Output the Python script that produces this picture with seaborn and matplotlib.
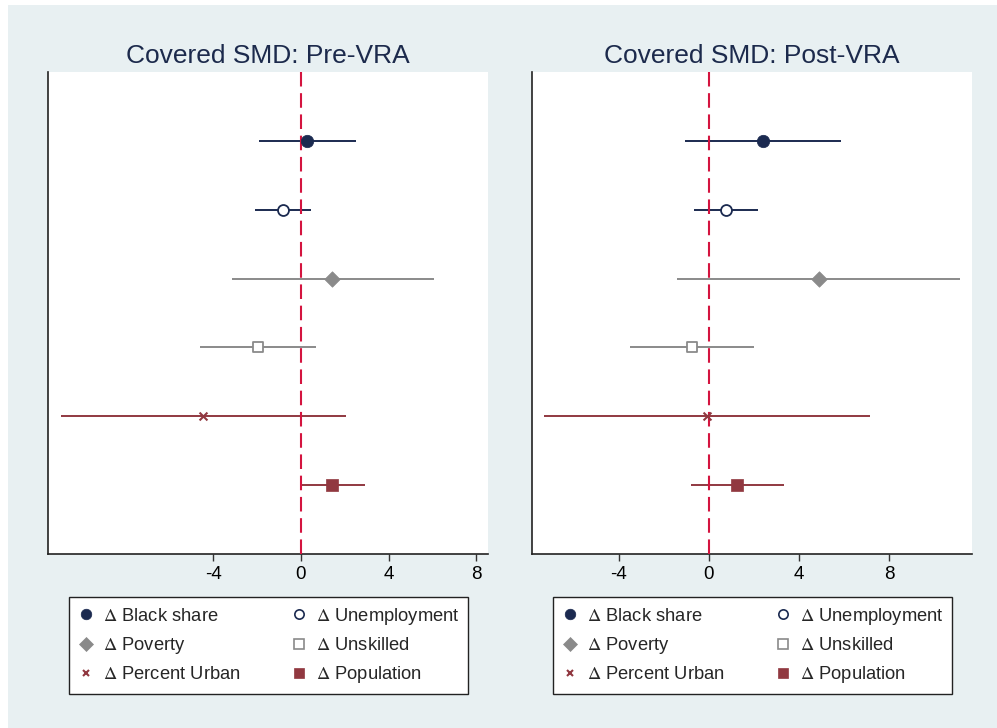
import math
import matplotlib
matplotlib.use("Agg")
import matplotlib.pyplot as plt
from matplotlib.patches import Rectangle
from matplotlib.lines import Line2D
import seaborn as sns
import pandas as pd

# Estimated standardized mean differences with 95% intervals
labels = ["Black share", "Unemployment", "Poverty", "Unskilled", "Percent Urban", "Population"]
pre_est = [0.29, -0.84, 1.43, -1.96, -4.47, 1.43]
pre_lo = [-1.90, -2.10, -3.14, -4.60, -10.97, -0.05]
pre_hi = [2.50, 0.44, 6.06, 0.67, 2.04, 2.94]
post_est = [2.38, 0.77, 4.86, -0.75, -0.07, 1.25]
post_lo = [-1.08, -0.64, -1.41, -3.49, -7.30, -0.81]
post_hi = [5.85, 2.17, 11.13, 1.99, 7.15, 3.34]
panel_titles = ["Covered SMD: Pre-VRA", "Covered SMD: Post-VRA"]
xticks = [-4, 0, 4, 8]

NAVY = "#1b2a50"
GRAY = "#8a8a8a"
MAROON = "#913840"
RED = "#d4143f"
BG = "#e8f0f2"

styles = [
    dict(marker="o", s=80, color=NAVY, face=NAVY, lw=0.5),
    dict(marker="o", s=62, color=NAVY, face="white", lw=1.3),
    dict(marker="D", s=62, color=GRAY, face=GRAY, lw=0.5),
    dict(marker="s", s=60, color=GRAY, face="white", lw=1.3),
    dict(marker="x", s=32, color=MAROON, face=MAROON, lw=1.5),
    dict(marker="s", s=74, color=MAROON, face=MAROON, lw=0.5),
]

sns.set_theme(style="white")
plt.rcParams["font.family"] = ["Liberation Sans", "DejaVu Sans"]
plt.rcParams["mathtext.fontset"] = "stix"

W, H = 997, 728
fig = plt.figure(figsize=(W / 100, H / 100), dpi=100, facecolor="white")
fig.patches.append(Rectangle((8 / W, 0), 1 - 8 / W, 1 - 5 / H, transform=fig.transFigure,
                             facecolor=BG, edgecolor="none", zorder=-10))

panels = [
    dict(est=pre_est, lo=pre_lo, hi=pre_hi, xlim=(-11.55, 8.54), left=48),
    dict(est=post_est, lo=post_lo, hi=post_hi, xlim=(-7.84, 11.66), left=532),
]

for p, title in zip(panels, panel_titles):
    ax = fig.add_axes([p["left"] / W, 1 - 554 / H, 440 / W, 482 / H])
    ax.set_facecolor("white")
    n = len(labels)
    df = pd.DataFrame({"var": labels, "est": p["est"], "lo": p["lo"], "hi": p["hi"],
                       "pos": list(range(n, 0, -1))})
    for i, row in df.iterrows():
        st = styles[i]
        ax.hlines(row["pos"], row["lo"], row["hi"], color=st["color"], lw=1.4, zorder=2)
    ax.axvline(0, color=RED, lw=1.5, dashes=(7, 3.2), zorder=3)
    for i, row in df.iterrows():
        st = styles[i]
        kw = dict(edgecolor=st["color"], facecolor=st["face"]) if st["marker"] != "x" else dict(color=st["color"])
        sns.scatterplot(x=[row["est"]], y=[row["pos"]], marker=st["marker"], s=st["s"],
                        linewidth=st["lw"], ax=ax, zorder=4, legend=False, **kw)
    ax.set_xlim(*p["xlim"])
    ax.set_ylim(0, n + 1)
    ax.set_yticks([])
    ax.set_xticks(xticks)
    ax.set_xticklabels([str(t) for t in xticks])
    ax.tick_params(axis="x", direction="out", length=5, width=1, color="#333333",
                   labelsize=13.5, pad=3.5, labelcolor="black", bottom=True)
    for side in ["top", "right"]:
        ax.spines[side].set_visible(False)
    for side in ["left", "bottom"]:
        ax.spines[side].set_color("#222222")
        ax.spines[side].set_linewidth(1.2)
    ax.set_xlabel("")
    ax.set_ylabel("")
    ax.set_title(title, fontsize=19, color="#1c2a4c", pad=6.5)

    handles = []
    for st, lab in zip(styles, labels):
        ms = math.sqrt(st["s"]) * 0.85
        h = Line2D([], [], linestyle="none", marker=st["marker"], markersize=ms,
                   markerfacecolor=st["face"], markeredgecolor=st["color"],
                   markeredgewidth=1.2 if st["face"] == "white" else st["lw"],
                   label=r"$\Delta$ " + lab)
        handles.append(h)
    order = [0, 2, 4, 1, 3, 5]
    leg = ax.legend([handles[k] for k in order], [handles[k].get_label() for k in order],
                    ncol=2, mode="expand", loc="center",
                    bbox_to_anchor=(21 / 440, -138 / 482, 399 / 440, 93 / 482),
                    fontsize=13.2, frameon=True, fancybox=False, framealpha=1,
                    edgecolor="#222222", borderpad=0.46, labelspacing=0.56,
                    handlelength=0.95, handletextpad=0.45, borderaxespad=0)
    leg.get_frame().set_linewidth(1.0)

fig.savefig("out.png", dpi=100, facecolor=fig.get_facecolor())
